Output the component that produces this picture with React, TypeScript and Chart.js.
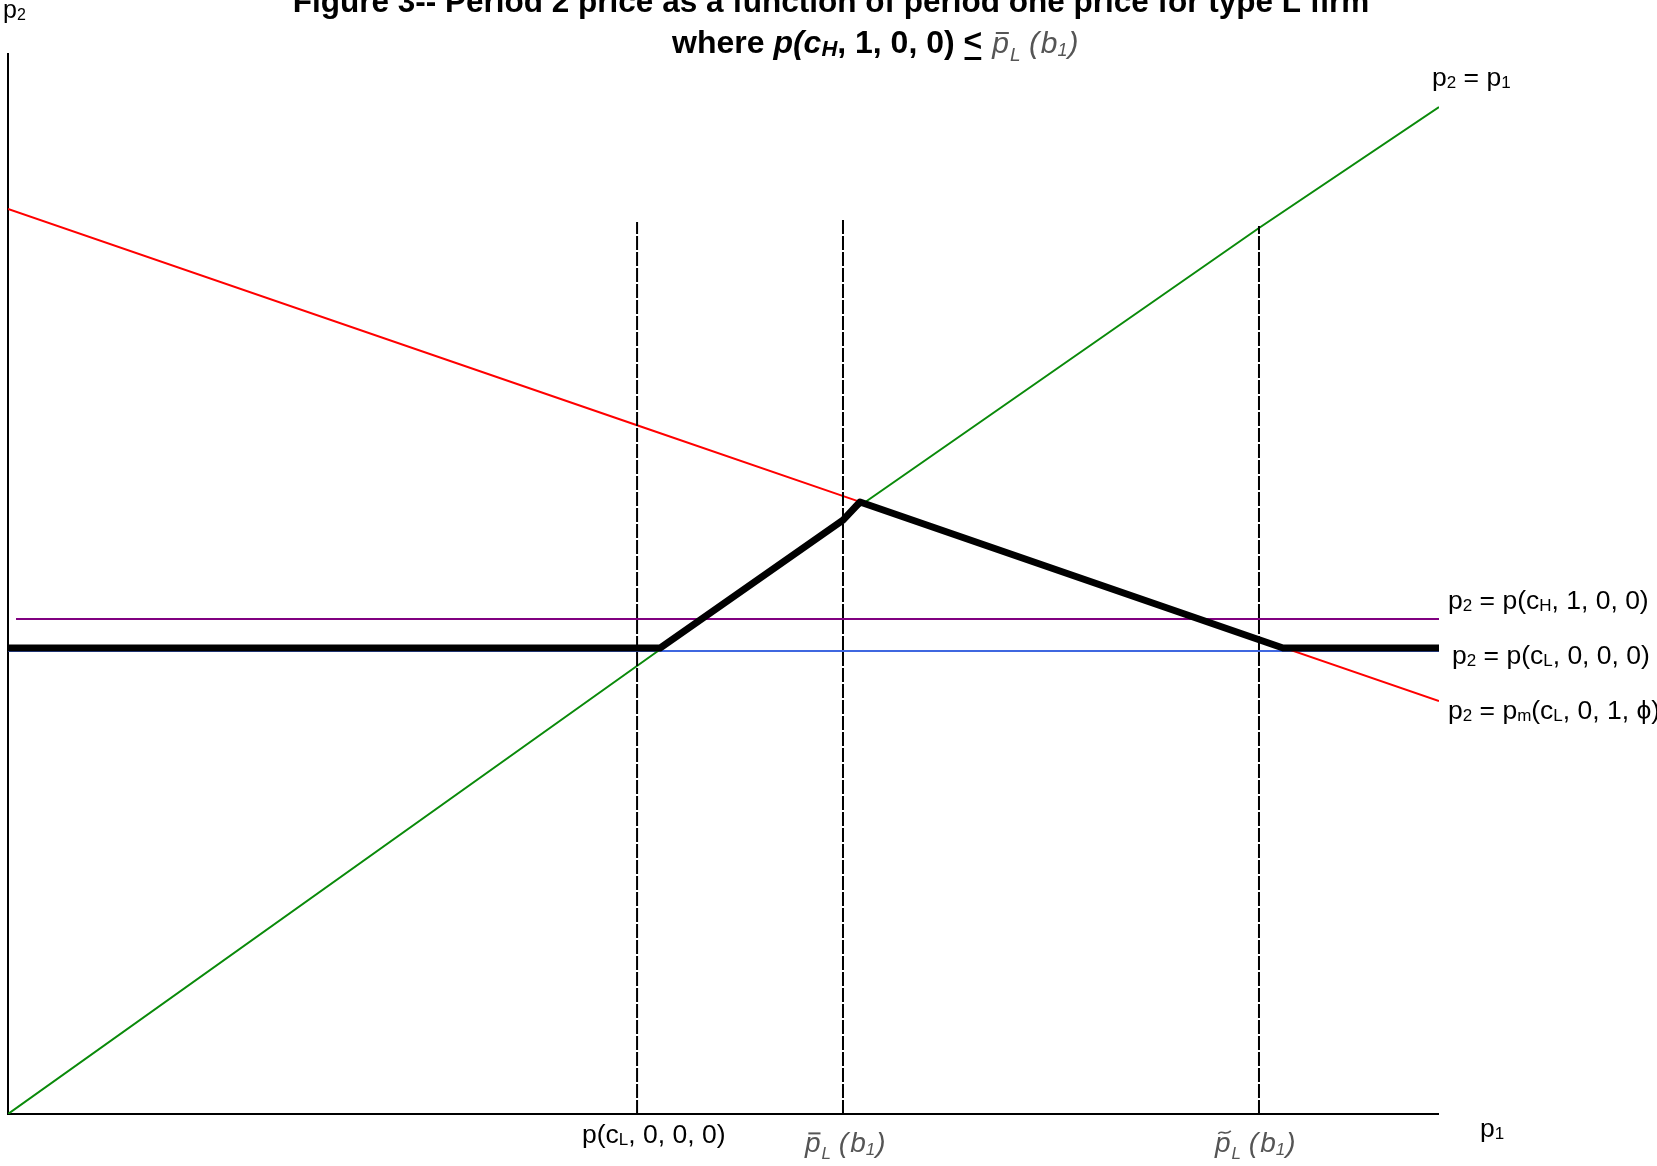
import React, { useEffect, useRef } from "react";
import { Chart, registerables } from "chart.js";

Chart.register(...registerables);

// ---- axis ranges ----
const X_MIN = 0;
const X_MAX = 10;
const Y_MIN = 0;
const Y_MAX = 10;

// ---- series ----
const diagonalX = [0, 4.542, 5.961, 8.742, 10];
const diagonalY = [0, 4.364, 5.74, 8.351, 9.491];

const monopolyX = [0, 4.396, 5.954, 10];
const monopolyY = [8.53, 6.492, 5.769, 3.893];

const highCostX = [0.056, 10];
const highCostY = [4.665, 4.665];

const lowCostX = [0, 10];
const lowCostY = [4.364, 4.364];

const optimalX = [0, 4.556, 5.835, 5.954, 8.91, 10];
const optimalY = [4.392, 4.392, 5.598, 5.768, 4.392, 4.392];

const cutoffX = [4.396, 5.835, 8.742];
const cutoffTop = [8.407, 8.426, 8.369];

// ---- text ----
const TITLE_LINE_1 = "Figure 3-- Period 2 price as a function of period one price for type L firm";

const SANS = '"Liberation Sans", Arial, Helvetica, sans-serif';
const font = (size: number, style = "") => `${style} ${size}px ${SANS}`.trim();

type Seg = { t: string; f: string; dy?: number; c?: string };

function drawSegs(ctx: CanvasRenderingContext2D, x: number, y: number, segs: Seg[]) {
  let cx = x;
  for (const s of segs) {
    ctx.font = s.f;
    ctx.fillStyle = s.c || "#000";
    ctx.fillText(s.t, cx, y + (s.dy || 0));
    cx += ctx.measureText(s.t).width;
  }
  return cx;
}

function drawAccentLabel(
  ctx: CanvasRenderingContext2D,
  x: number,
  y: number,
  accent: "bar" | "tilde",
  size = 28
) {
  const gray = "#555555";
  ctx.fillStyle = gray;
  ctx.strokeStyle = gray;
  ctx.font = font(size, "italic");
  ctx.fillText("p", x, y);
  const pw = ctx.measureText("p").width;
  if (accent === "bar") {
    ctx.fillRect(x + size * 0.12, y - size * 0.7, pw * 0.78, 2);
  } else {
    ctx.lineWidth = 1.6;
    ctx.beginPath();
    const tx = x + size * 0.12;
    const ty = y - size * 0.72;
    const w = pw * 0.8;
    ctx.moveTo(tx, ty + 2);
    ctx.bezierCurveTo(tx + w * 0.25, ty - 3, tx + w * 0.5, ty + 5, tx + w, ty - 1);
    ctx.stroke();
  }
  let cx = x + pw + 1;
  ctx.font = font(Math.round(size * 0.62), "italic");
  ctx.fillText("L", cx, y + size * 0.26);
  cx += ctx.measureText("L").width + size * 0.28;
  ctx.font = font(size, "italic");
  ctx.fillText("(", cx, y);
  cx += ctx.measureText("(").width + 2;
  ctx.fillText("b", cx, y);
  cx += ctx.measureText("b").width;
  ctx.font = font(Math.round(size * 0.6), "italic");
  ctx.fillText("1", cx, y + size * 0.1);
  cx += ctx.measureText("1").width + 1;
  ctx.font = font(size, "italic");
  ctx.fillText(")", cx, y);
}

const axisLinesPlugin = {
  id: "axisLines",
  beforeDatasetsDraw(chart: any) {
    const { ctx, scales } = chart;
    const xs = scales.x;
    const ys = scales.y;
    const x0 = xs.getPixelForValue(X_MIN);
    const x1 = xs.getPixelForValue(X_MAX);
    const y0 = ys.getPixelForValue(Y_MIN);
    const y1 = ys.getPixelForValue(Y_MAX);
    ctx.save();
    ctx.strokeStyle = "#000";
    ctx.lineWidth = 2;
    ctx.beginPath();
    ctx.moveTo(x0, y1);
    ctx.lineTo(x0, y0);
    ctx.lineTo(x1, y0);
    ctx.stroke();
    ctx.restore();
  },
};

const textPlugin = {
  id: "figureText",
  afterDraw(chart: any) {
    const ctx: CanvasRenderingContext2D = chart.ctx;
    ctx.save();
    ctx.textBaseline = "alphabetic";

    // title line 1 (partly cut at top)
    ctx.textAlign = "center";
    ctx.font = font(31.5, "bold");
    ctx.fillStyle = "#000";
    ctx.fillText(TITLE_LINE_1, 831, 12);

    // title line 2
    ctx.textAlign = "left";
    let cx = drawSegs(ctx, 672, 53, [
      { t: "where ", f: font(32, "bold") },
      { t: "p(c", f: font(32, "bold italic") },
      { t: "H", f: font(22, "bold italic"), dy: 3 },
      { t: ", 1, 0, 0) ", f: font(32, "bold") },
    ]);
    ctx.font = font(32, "bold");
    ctx.fillStyle = "#000";
    ctx.fillText("<", cx, 51);
    const lw = ctx.measureText("<").width;
    ctx.fillRect(cx + 1, 57, lw - 2, 3);
    cx += lw + 10;
    drawAccentLabel(ctx, cx, 53, "bar", 30);

    const big = font(26.5);
    const sub = font(17);

    // y-axis label
    drawSegs(ctx, 3, 18, [
      { t: "p", f: font(25) },
      { t: "2", f: font(16), dy: 2 },
    ]);

    // right-hand line labels
    drawSegs(ctx, 1432, 86, [
      { t: "p", f: big },
      { t: "2", f: sub, dy: 2 },
      { t: " = p", f: big },
      { t: "1", f: sub, dy: 2 },
    ]);
    drawSegs(ctx, 1448, 609, [
      { t: "p", f: big },
      { t: "2", f: sub, dy: 2 },
      { t: " = p(c", f: big },
      { t: "H", f: sub, dy: 2 },
      { t: ", 1, 0, 0)", f: big },
    ]);
    drawSegs(ctx, 1452, 664, [
      { t: "p", f: big },
      { t: "2", f: sub, dy: 2 },
      { t: " = p(c", f: big },
      { t: "L", f: sub, dy: 2 },
      { t: ", 0, 0, 0)", f: big },
    ]);
    drawSegs(ctx, 1448, 719, [
      { t: "p", f: big },
      { t: "2", f: sub, dy: 2 },
      { t: " = p", f: big },
      { t: "m", f: sub, dy: 2 },
      { t: "(c", f: big },
      { t: "L", f: sub, dy: 2 },
      { t: ", 0, 1, \u03D5)", f: big },
    ]);

    // x-axis labels
    drawSegs(ctx, 582, 1143, [
      { t: "p(c", f: big },
      { t: "L", f: sub, dy: 2 },
      { t: ", 0, 0, 0)", f: big },
    ]);
    drawAccentLabel(ctx, 805, 1152, "bar", 28);
    drawAccentLabel(ctx, 1215, 1152, "tilde", 28);
    drawSegs(ctx, 1480, 1137, [
      { t: "p", f: big },
      { t: "1", f: sub, dy: 2 },
    ]);

    ctx.restore();
  },
};

const pts = (xs: number[], ys: number[]) => xs.map((x, i) => ({ x, y: ys[i] }));

export default function App() {
  const canvasRef = useRef<HTMLCanvasElement | null>(null);

  useEffect(() => {
    if (!canvasRef.current) return;
    const base = { pointRadius: 0, tension: 0, fill: false };
    const cutoffSets = cutoffX.map((cx, i) => ({
      ...base,
      label: `cutoff${i}`,
      data: pts([cx, cx], [Y_MIN, cutoffTop[i]]),
      borderColor: "#000",
      borderWidth: 2,
      borderDash: [14, 2],
    }));
    const chart = new Chart(canvasRef.current, {
      type: "line",
      data: {
        datasets: [
          {
            ...base,
            label: "equilibrium p2",
            data: pts(optimalX, optimalY),
            borderColor: "#000",
            borderWidth: 7,
            borderJoinStyle: "round",
            borderCapStyle: "round",
          },
          ...cutoffSets,
          {
            ...base,
            label: "p2 = p1",
            data: pts(diagonalX, diagonalY),
            borderColor: "#0a8a0a",
            borderWidth: 2,
          },
          {
            ...base,
            label: "p2 = pm(cL,0,1,phi)",
            data: pts(monopolyX, monopolyY),
            borderColor: "#ff0000",
            borderWidth: 2,
          },
          {
            ...base,
            label: "p2 = p(cH,1,0,0)",
            data: pts(highCostX, highCostY),
            borderColor: "#800080",
            borderWidth: 2,
          },
          {
            ...base,
            label: "p2 = p(cL,0,0,0)",
            data: pts(lowCostX, lowCostY),
            borderColor: "#3f67e0",
            borderWidth: 2,
          },
        ] as any,
      },
      options: {
        animation: false,
        responsive: false,
        devicePixelRatio: 1,
        layout: { padding: { left: 8, top: 53, right: 218, bottom: 52 } },
        plugins: {
          legend: { display: false },
          tooltip: { enabled: false },
          title: { display: false },
        },
        scales: {
          x: { type: "linear", min: X_MIN, max: X_MAX, display: false },
          y: { type: "linear", min: Y_MIN, max: Y_MAX, display: false },
        },
      } as any,
      plugins: [axisLinesPlugin, textPlugin],
    });
    return () => chart.destroy();
  }, []);

  return (
    <div style={{ position: "absolute", left: 0, top: 0, width: 1657, height: 1166, background: "#fff" }}>
      <canvas ref={canvasRef} width={1657} height={1166} style={{ display: "block" }} />
    </div>
  );
}
